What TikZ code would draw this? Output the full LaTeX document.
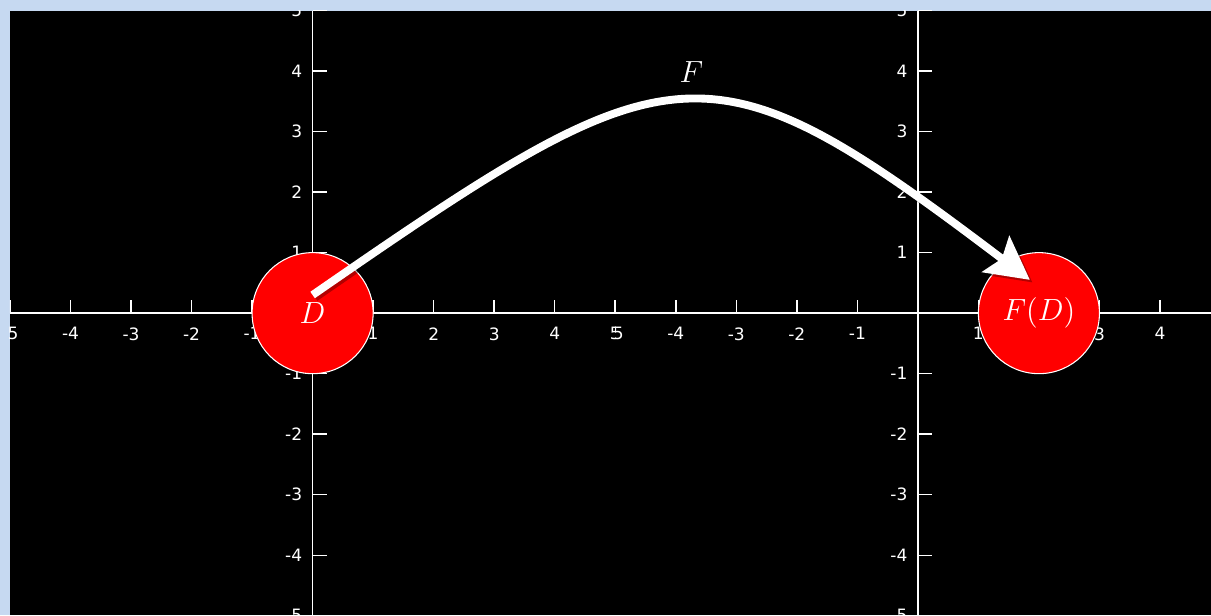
\documentclass[tikz,border=0pt]{standalone}
\usepackage{fontspec}
\newfontfamily\ticksfont{DejaVu Sans}
\usetikzlibrary{arrows.meta,positioning,calc}
\definecolor{frameblue}{HTML}{C6D9F1}

\begin{document}
\begin{tikzpicture}[
  axisline/.style={white, line width=0.7pt},
  tickmark/.style={white, line width=0.7pt},
  ticklabel/.style={text=white, inner sep=0pt, font=\ticksfont\fontsize{8}{9}\selectfont},
  disc/.style={circle, draw=white, line width=0.5pt, fill=red, minimum size=2cm, inner sep=0pt, text=white, font=\Large},
  maparrow/.style={white, line width=3.7pt, -{Stealth[length=20pt, width=21pt, inset=3.5pt]}}
]
\useasboundingbox (-5.165,-4.992) rectangle (14.843,5.174);
\fill[frameblue] (-5.165,-4.992) rectangle (14.843,5.174);
\fill[black] (-5,-4.992) rectangle (14.843,5);
% two copies of the plane, side by side
\foreach \ox in {0,10} {
  \begin{scope}[shift={(\ox,0)}]
    \clip (-5,-5) rectangle (5,5);
    \draw[axisline] (-5,0) -- (5,0);
    \draw[axisline] (0,-5) -- (0,5);
    \foreach \k in {-5,-4,-3,-2,-1,1,2,3,4,5} {
      \draw[tickmark] (\k,0) -- (\k,0.22);
      \node[ticklabel, anchor=north] at (\k,-0.23) {\k};
      \draw[tickmark] (0,\k) -- (0.23,\k);
      \node[ticklabel, anchor=east] at (-0.165,\k) {\k};
    }
  \end{scope}
}
\node[disc] (D) at (0,0) {$D$};
\node[disc] (FD) at (12,0) {$F(D)$};
\coordinate (from) at ($(D.center)+(0,0.3)$);
\coordinate (to) at ($(FD.center)+(-0.15,0.55)$);
\draw[maparrow, black, opacity=0.3, transform canvas={xshift=1.2pt, yshift=-1.2pt}] (from) .. controls (6.0,4.45) and (6.5,4.6) .. (to);
\draw[maparrow] (from) .. controls (6.0,4.45) and (6.5,4.6) .. (to);
\node[text=white, font=\Large] (Flabel) at (6.26,3.98) {$F$};
\end{tikzpicture}
\end{document}
